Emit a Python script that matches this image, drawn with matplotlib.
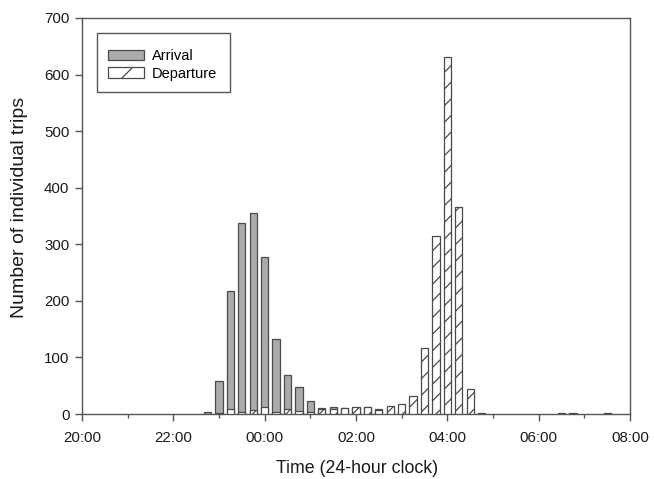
import matplotlib
matplotlib.use("Agg")
import matplotlib.pyplot as plt
from matplotlib.patches import Rectangle, Patch
from matplotlib.ticker import MultipleLocator

plt.rcParams['font.family'] = ['Liberation Sans', 'DejaVu Sans']
plt.rcParams['hatch.linewidth'] = 0.9
plt.rcParams['hatch.color'] = '#202020'

# 15-minute bins (bin centre times)
arrival_times = ["22:45", "23:00", "23:15", "23:30", "23:45", "00:00", "00:15", "00:30",
                 "00:45", "01:00", "01:15", "01:30", "01:45", "02:00", "02:15", "02:30",
                 "02:45", "03:00", "03:15", "03:30"]
arrival_counts = [4, 58, 218, 338, 355, 277, 132, 69,
                  47, 23, 11, 12, 11, 10, 12, 8,
                  8, 6, 3, 2]

departure_times = ["23:00", "23:15", "23:30", "23:45", "00:00", "00:15", "00:30", "00:45",
                   "01:00", "01:15", "01:30", "01:45", "02:00", "02:15", "02:30", "02:45",
                   "03:00", "03:15", "03:30", "03:45", "04:00", "04:15", "04:30", "04:45",
                   "06:30", "06:45", "07:30"]
departure_counts = [2, 9, 3, 7, 12, 3, 8, 5,
                    4, 9, 9, 10, 12, 12, 7, 15,
                    17, 32, 116, 314, 631, 366, 44, 1,
                    1, 1, 2]

tick_labels = ["20:00", "22:00", "00:00", "02:00", "04:00", "06:00", "08:00"]


def to_hours(t):
    h, m = map(int, t.split(":"))
    if h < 20:
        h += 24
    return h - 20 + m / 60.0


fig = plt.figure(figsize=(6.54, 4.79), dpi=100)
ax = fig.add_axes([82 / 654, 1 - 414 / 479, (630 - 82) / 654, (414 - 18) / 479])

width = 0.16
edge = '#4a4a4a'
gray = '#ababab'
ax.bar([to_hours(t) for t in arrival_times], arrival_counts, width=width,
       color=gray, edgecolor=edge, linewidth=0.9, zorder=2)
ax.bar([to_hours(t) for t in departure_times], departure_counts, width=width,
       color='white', edgecolor=edge, linewidth=0.9, hatch='//', zorder=3)

ax.set_xlim(0, 12)
ax.set_ylim(0, 700)
ax.set_xticks([0 if t == "20:00" else (12 if t == "08:00" else to_hours(t)) for t in tick_labels])
ax.set_xticklabels(tick_labels)
ax.xaxis.set_minor_locator(MultipleLocator(1))
ax.yaxis.set_major_locator(MultipleLocator(100))

spine_c = '#555555'
for s in ax.spines.values():
    s.set_color(spine_c)
    s.set_linewidth(1.0)
ax.tick_params(axis='both', which='major', direction='out', length=5, width=1.0,
               color=spine_c, labelsize=10.8, labelcolor='#1a1a1a', pad=4)
ax.tick_params(axis='x', which='major', pad=7)
ax.tick_params(axis='x', which='minor', direction='out', length=3, width=1.0, color=spine_c)

ax.set_xlabel("Time (24-hour clock)", fontsize=12.8, color='#1a1a1a')
ax.set_ylabel("Number of individual trips", fontsize=14, color='#1a1a1a')
px_w, px_h = 548.0, 396.0
ax.xaxis.set_label_coords((357 - 82) / px_w, 1 - (468 - 18) / px_h)
ax.yaxis.set_label_coords((20 - 82) / px_w, 1 - (207 - 18) / px_h)
ax.xaxis.label.set_va('center')
ax.yaxis.label.set_va('center')

# legend box
box = Rectangle(((97.5 - 82) / px_w, 1 - (92 - 18) / px_h), (230 - 97.5) / px_w, (92 - 33.5) / px_h,
                transform=ax.transAxes, fill=False, edgecolor='#555555', linewidth=1.0, zorder=5)
ax.add_patch(box)
handles = [Patch(facecolor=gray, edgecolor=edge, linewidth=0.9, label='Arrival'),
           Patch(facecolor='white', edgecolor=edge, linewidth=0.9, hatch='/', label='Departure')]
ax.legend(handles=handles, loc='upper left',
          bbox_to_anchor=((108 - 82) / px_w, 1 - (49 - 18) / px_h),
          frameon=False, borderpad=0, borderaxespad=0, fontsize=10.5,
          handlelength=2.5, handleheight=0.7, handletextpad=0.5, labelspacing=0.25)

fig.savefig("out.png", dpi=100)
